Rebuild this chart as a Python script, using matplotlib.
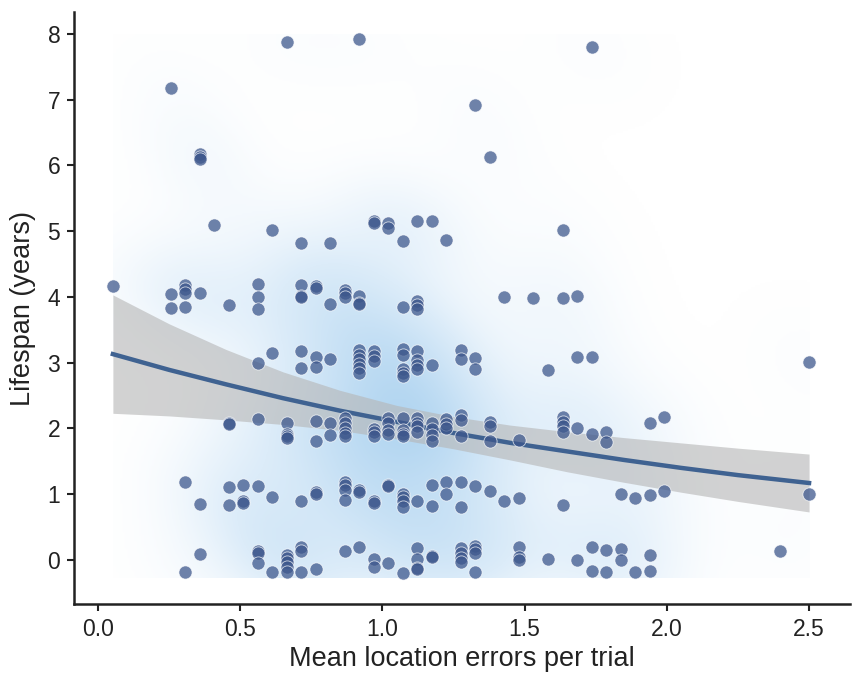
import numpy as np
import matplotlib
matplotlib.use("Agg")
import matplotlib.pyplot as plt
from matplotlib.colors import LinearSegmentedColormap

plt.rcParams['font.family'] = ['Liberation Sans', 'DejaVu Sans']

# x positions of the point columns (mean location errors per trial)
err_levels = [0.052, 0.256, 0.307, 0.358, 0.409, 0.46, 0.511, 0.562, 0.613, 0.664,
              0.715, 0.766, 0.817, 0.868, 0.919, 0.97, 1.021, 1.072, 1.123, 1.174,
              1.225, 1.276, 1.327, 1.378, 1.429, 1.48, 1.531, 1.582, 1.633, 1.684,
              1.735, 1.786, 1.837, 1.888, 1.939, 1.99, 2.398, 2.5]

# jittered lifespans (years) in each column
lifespans = [
    [4.17],
    [7.18, 4.05, 3.83],
    [4.18, 4.12, 4.06, 3.84, 1.18, -0.19],
    [6.17, 6.13, 6.09, 4.06, 0.85, 0.09],
    [5.09],
    [3.87, 2.08, 2.06, 1.11, 0.84],
    [1.14, 0.90, 0.86],
    [4.19, 4.0, 3.82, 3.0, 2.14, 1.13, 0.13, 0.11, -0.04],
    [5.01, 3.14, 0.95, -0.19],
    [7.87, 2.08, 1.92, 1.88, 1.85, 0.08, 0.03, -0.03, -0.1, -0.18],
    [4.82, 4.18, 4.01, 4.0, 3.18, 2.92, 0.89, 0.19, 0.13, -0.19],
    [4.17, 4.14, 3.09, 2.94, 2.12, 1.81, 1.03, 1.01, -0.13],
    [4.82, 3.89, 3.05, 2.08, 1.90],
    [4.1, 4.06, 4.0, 2.16, 2.08, 2.0, 1.93, 1.88, 1.18, 1.14, 1.06, 0.91, 0.14],
    [7.92, 4.01, 3.91, 3.89, 3.19, 3.12, 3.05, 2.98, 2.92, 2.84, 1.07, 1.04, 0.19],
    [5.15, 5.12, 3.18, 3.10, 3.02, 1.99, 1.94, 1.89, 0.89, 0.87, 0.02, -0.1],
    [5.12, 5.04, 2.16, 2.08, 1.98, 1.92, 1.14, 1.12, -0.05],
    [4.85, 3.85, 3.2, 3.12, 2.9, 2.84, 2.8, 2.16, 1.97, 1.92, 1.88, 1.01, 0.95, 0.89, 0.81, -0.2],
    [5.16, 3.93, 3.88, 3.81, 3.17, 3.04, 2.97, 2.9, 2.16, 2.09, 2.03, 1.95, 0.89, 0.18, 0.01, -0.12, -0.14],
    [5.15, 2.97, 2.08, 1.99, 1.90, 1.81, 1.14, 0.82, 0.06, 0.05],
    [4.87, 2.14, 2.07, 2.0, 1.18, 1.01],
    [3.19, 3.05, 2.21, 2.13, 1.88, 1.18, 0.81, 0.18, 0.10, 0.03, -0.03],
    [6.92, 3.07, 2.90, 1.12, 0.21, 0.16, 0.10, -0.19],
    [6.12, 2.10, 2.04, 1.81, 1.05],
    [4.0, 0.90],
    [1.83, 0.94, 0.20, 0.05, 0.0],
    [3.98],
    [2.89, 0.02],
    [5.01, 3.99, 2.18, 2.10, 2.03, 1.94, 0.83],
    [4.01, 3.09, 2.01, 0.0],
    [7.80, 3.09, 1.92, 0.19, -0.17],
    [1.94, 1.80, 0.15, -0.18],
    [1.01, 0.16, 0.0],
    [0.94, -0.19],
    [2.08, 0.99, 0.08, -0.17],
    [2.18, 1.05],
    [0.13],
    [3.01, 1.01],
]

# fitted curve and its confidence band
fit_x = [0.052, 0.25, 0.45, 0.65, 0.85, 1.05, 1.25, 1.45, 1.65, 1.85, 2.05, 2.25, 2.5]
fit_mid = [3.13, 2.89, 2.67, 2.46, 2.27, 2.10, 1.93, 1.78, 1.65, 1.52, 1.40, 1.29, 1.17]
fit_lo = [2.23, 2.19, 2.13, 2.06, 1.97, 1.84, 1.69, 1.52, 1.34, 1.18, 1.03, 0.89, 0.73]
fit_hi = [4.03, 3.59, 3.20, 2.86, 2.58, 2.35, 2.18, 2.05, 1.95, 1.86, 1.78, 1.70, 1.61]

x = np.concatenate([[e] * len(l) for e, l in zip(err_levels, lifespans)])
y = np.concatenate([np.array(l, dtype=float) for l in lifespans])

fig = plt.figure(figsize=(8.53, 6.73), dpi=100)
ax = fig.add_axes([0.087, 0.1025, 0.9095, 0.8795])

# 2D gaussian kde over the data box
x0, x1 = x.min(), x.max()
y0, y1 = y.min() - 0.07, y.max() + 0.07
gx = np.linspace(x0, x1, 300)
gy = np.linspace(y0, y1, 300)
GX, GY = np.meshgrid(gx, gy)
pts = np.vstack([x, y])
cov = np.cov(pts) * (0.85 * len(x) ** (-1 / 6)) ** 2
inv = np.linalg.inv(cov)
dx = GX[..., None] - x[None, None, :]
dy = GY[..., None] - y[None, None, :]
q = inv[0, 0] * dx**2 + 2 * inv[0, 1] * dx * dy + inv[1, 1] * dy**2
dens = np.exp(-0.5 * q).sum(axis=-1)
sky = LinearSegmentedColormap.from_list(
    'sky', [(0.0, '#ffffff'), (0.4, '#dcecf9'), (1.0, '#b3d6f1')])
ax.imshow(dens, origin='lower', extent=(x0, x1, y0, y1), cmap=sky,
          vmin=0, vmax=dens.max(), aspect='auto',
          interpolation='bilinear', zorder=0)

ax.fill_between(fit_x, fit_lo, fit_hi, color='#b5b5b5', alpha=0.6, lw=0, zorder=1)
ax.plot(fit_x, fit_mid, color='#3f6291', lw=3.2, zorder=2)
ax.scatter(x, y, s=90, c='#3d578c', alpha=0.74, edgecolors='white',
           linewidths=0.6, zorder=3)

ax.set_xlim(-0.084, 2.644)
ax.set_ylim(-0.67, 8.33)
ax.set_xticks([0.0, 0.5, 1.0, 1.5, 2.0, 2.5])
ax.set_yticks(range(0, 9))
for s in ['top', 'right']:
    ax.spines[s].set_visible(False)
for s in ['left', 'bottom']:
    ax.spines[s].set_linewidth(1.8)
    ax.spines[s].set_color('#222222')
ax.tick_params(direction='out', length=5, width=1.5, labelsize=16.5,
               color='#222222', labelcolor='#222222', pad=5)
ax.set_xlabel('Mean location errors per trial', fontsize=19.5, labelpad=4, color='#222222')
ax.set_ylabel('Lifespan (years)', fontsize=19.5, labelpad=8, color='#222222')

fig.savefig('out.png', dpi=100)
